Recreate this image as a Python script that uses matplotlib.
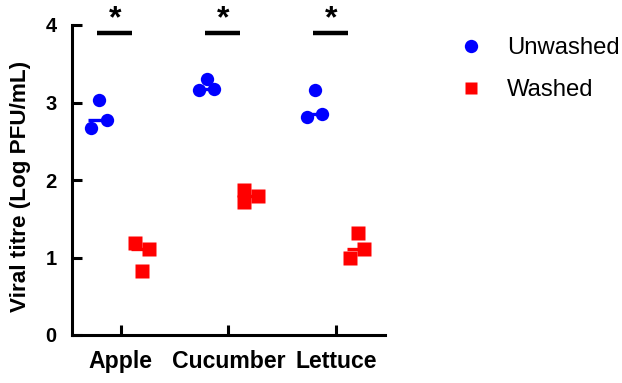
import matplotlib
matplotlib.use("Agg")
import matplotlib.pyplot as plt
from matplotlib.lines import Line2D
import numpy as np

plt.rcParams["font.family"] = ["Liberation Sans", "DejaVu Sans"]

categories = ["Apple", "Cucumber", "Lettuce"]
unwashed = [[3.03, 2.78, 2.67], [3.30, 3.16, 3.18], [3.16, 2.81, 2.85]]
washed = [[1.19, 1.11, 0.82], [1.87, 1.72, 1.79], [1.32, 1.11, 1.00]]
yticks = [0, 1, 2, 3, 4]

# horizontal scatter of the single points inside each group
jit_unwashed = [[0.0, 0.07, -0.07], [0.0, -0.07, 0.07], [0.0, -0.07, 0.07]]
jit_washed = [[-0.07, 0.06, 0.0], [-0.06, -0.06, 0.07], [0.0, 0.06, -0.07]]

BLUE = "#0000FF"
RED = "#FF0000"


def main():
    fig = plt.figure(figsize=(6.22, 3.83), dpi=100)
    ax = fig.add_axes([72 / 622, 1 - 335 / 383, 313 / 622, 310 / 383])

    xs = np.arange(len(categories))
    off = 0.2
    for i, x in enumerate(xs):
        for vals, jit, dx, c, m in [
                (unwashed[i], jit_unwashed[i], -off, BLUE, "o"),
                (washed[i], jit_washed[i], off, RED, "s")]:
            med = np.median(vals)
            ax.plot([x + dx - 0.1, x + dx + 0.09], [med, med],
                    c=c, lw=2.4, solid_capstyle="butt", zorder=2)
            ax.plot(x + dx + np.array(jit), vals, ls="none", marker=m,
                    ms=9.6, mfc=c, mec="none", zorder=3)
        # significance bar and star
        ax.plot([x - 0.22, x + 0.11], [3.9, 3.9], c="k", lw=3.2,
                solid_capstyle="butt", clip_on=False)
        ax.text(x - 0.05, 3.97, "*", ha="center", va="baseline",
                fontsize=23, fontweight="bold", clip_on=False)

    ax.set_xlim(-0.45, 2.45)
    ax.set_ylim(0, 4)
    ax.set_xticks(xs)
    ax.set_xticklabels(categories, fontsize=16.6, fontweight="bold")
    ax.set_yticks(yticks)
    ax.set_yticklabels([str(t) for t in yticks], fontsize=14.5,
                       fontweight="bold")
    ax.tick_params(axis="both", direction="in", length=7, width=2.2)
    ax.tick_params(axis="y", pad=11)
    ax.tick_params(axis="x", pad=11)
    for s in ["top", "right"]:
        ax.spines[s].set_visible(False)
    for s in ["left", "bottom"]:
        ax.spines[s].set_linewidth(2.2)
    ax.set_ylabel("Viral titre (Log PFU/mL)", fontsize=16.2,
                  fontweight="bold")
    ax.yaxis.set_label_coords(-0.131, 0.48)

    handles = [
        Line2D([], [], ls="none", marker="o", ms=9.6, mfc=BLUE, mec="none"),
        Line2D([], [], ls="none", marker="s", ms=9.0, mfc=RED, mec="none"),
    ]
    fig.legend(handles, ["Unwashed", "Washed"], loc="upper left",
               bbox_to_anchor=(459 / 622, 1 - 37 / 383), frameon=False,
               fontsize=17.2, handlelength=1.0, handletextpad=1.0,
               labelspacing=0.84, borderpad=0, borderaxespad=0,
               numpoints=1)

    fig.savefig("out.png", dpi=100)


if __name__ == '__main__':
    main()
